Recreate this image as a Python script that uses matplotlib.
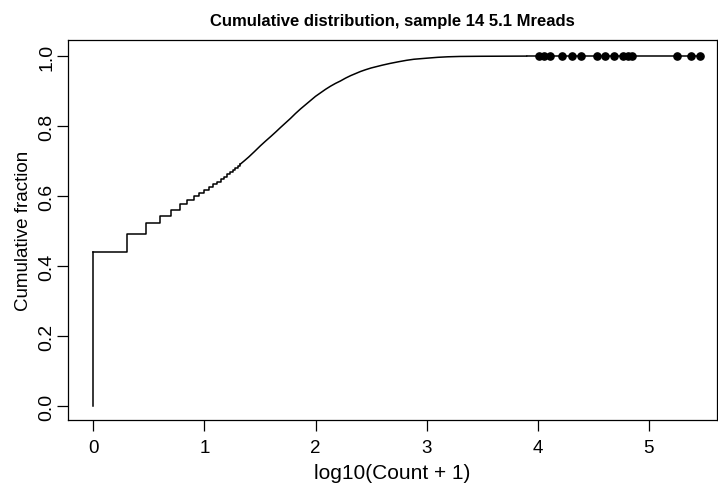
import numpy as np
import matplotlib.pyplot as plt

plt.rcParams['font.family'] = ['Liberation Sans', 'DejaVu Sans']

# low counts: distinct steps (count value -> cumulative fraction after the step)
step_counts = [0, 1, 2, 3, 4, 5, 6, 7, 8, 9, 10, 11, 12, 13, 14, 15, 16, 17, 18, 19, 20]
step_frac = [0.441, 0.491, 0.522, 0.544, 0.561, 0.578, 0.589, 0.600, 0.609, 0.618,
             0.626, 0.634, 0.641, 0.648, 0.655, 0.662, 0.668, 0.674, 0.680, 0.686, 0.691]

# higher counts: steps too fine to see, read as a curve (log10(count+1), fraction)
curve_x = [1.36, 1.40, 1.45, 1.505, 1.55, 1.60, 1.645, 1.685, 1.73, 1.775, 1.82, 1.865,
           1.91, 1.955, 2.0, 2.045, 2.09, 2.135, 2.18, 2.225, 2.27, 2.315, 2.36,
           2.405, 2.45, 2.5, 2.55, 2.6, 2.67, 2.75, 2.82, 2.886, 3.0, 3.1, 3.19,
           3.3, 3.49, 3.9]
curve_frac = [0.701, 0.712, 0.727, 0.744, 0.757, 0.771, 0.784, 0.796, 0.809, 0.822,
              0.836, 0.849, 0.861, 0.873, 0.885, 0.895, 0.905, 0.914, 0.922, 0.929,
              0.937, 0.944, 0.950, 0.956, 0.961, 0.966, 0.970, 0.974, 0.979, 0.984,
              0.988, 0.991, 0.994, 0.9965, 0.998, 0.999, 0.9995, 1.0]

# isolated high-count genes drawn as points
point_x = [4.01, 4.06, 4.11, 4.22, 4.31, 4.39, 4.53, 4.61, 4.69, 4.77, 4.81, 4.85,
           5.25, 5.38, 5.46]
point_frac = [1.0] * len(point_x)

title = "Cumulative distribution, sample 14 5.1 Mreads"

fig = plt.figure(figsize=(7.18, 4.89), dpi=100)
ax = fig.add_axes([68/718, 68/489, 649/718, 380/489])

sx = np.log10(np.array(step_counts) + 1)
# vertical start at zero then the staircase
ax.plot([0, 0], [0, step_frac[0]], color='black', lw=1.1)
ax.plot(sx, step_frac, drawstyle='steps-post', color='black', lw=1.1)
ax.plot([sx[-1]] + curve_x, [step_frac[-1]] + curve_frac, color='black', lw=1.1)
ax.plot([curve_x[-1]] + point_x, [curve_frac[-1]] + point_frac, color='black', lw=1.1)
ax.plot(point_x, point_frac, 'o', color='black', ms=5.2)

ax.set_xlim(-0.228, 5.614)
ax.set_ylim(-0.04, 1.046)
ax.set_xticks([0, 1, 2, 3, 4, 5])
ax.set_yticks([0.0, 0.2, 0.4, 0.6, 0.8, 1.0])
ax.set_yticklabels(['0.0', '0.2', '0.4', '0.6', '0.8', '1.0'], rotation=90, va='center')
ax.tick_params(direction='out', length=7.9, width=0.9)
ax.tick_params(axis='x', labelsize=13.5, pad=5.5)
ax.tick_params(axis='y', labelsize=14, pad=1)
for s in ax.spines.values():
    s.set_linewidth(0.9)

ax.set_xlabel("log10(Count + 1)", fontsize=15, labelpad=5.5)
ax.set_ylabel("Cumulative fraction", fontsize=13.5, labelpad=5)
ax.set_title(title, fontsize=12, fontweight='bold', pad=11)

plt.savefig("out.png", dpi=100)
